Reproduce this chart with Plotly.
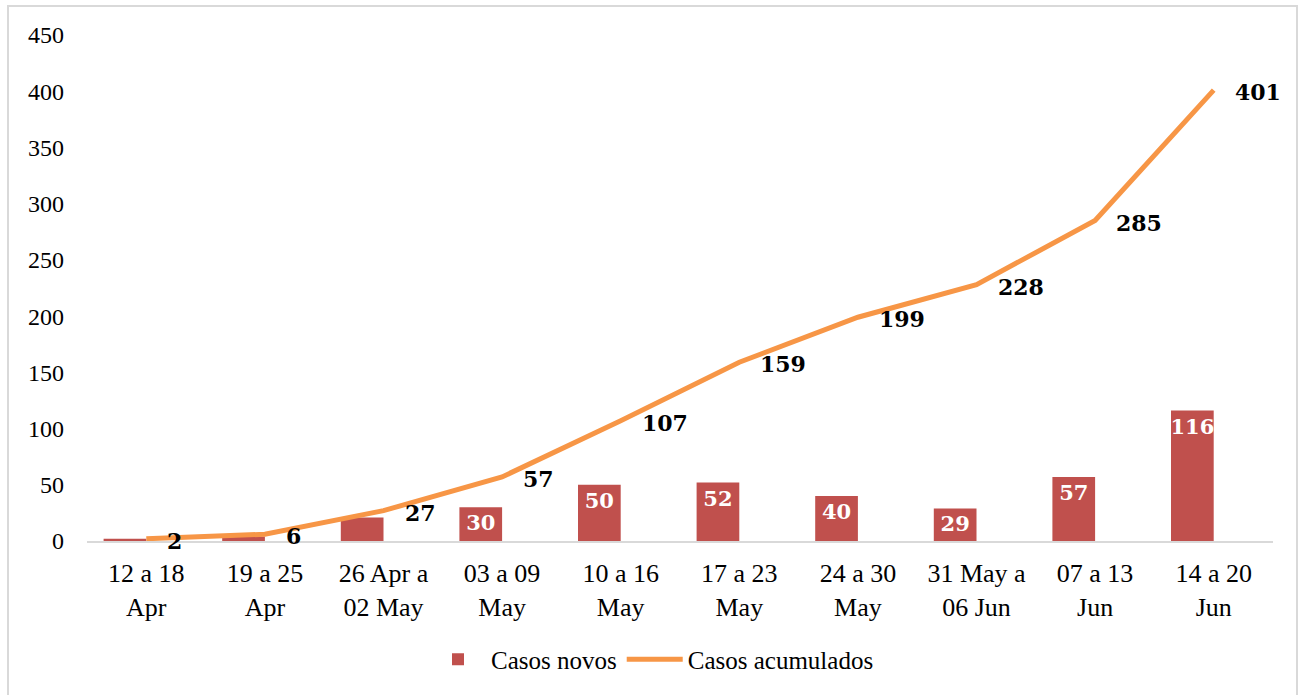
import plotly.graph_objects as go

categories = ["12 a 18<br>Apr", "19 a 25<br>Apr", "26 Apr a<br>02 May", "03 a 09<br>May",
              "10 a 16<br>May", "17 a 23<br>May", "24 a 30<br>May", "31 May a<br>06 Jun",
              "07 a 13<br>Jun", "14 a 20<br>Jun"]
casos_novos = [2, 4, 21, 30, 50, 52, 40, 29, 57, 116]
casos_acumulados = [2, 6, 27, 57, 107, 159, 199, 228, 285, 401]
bar_labels = ["", "", "", "30", "50", "52", "40", "29", "57", "116"]
y_ticks = [0, 50, 100, 150, 200, 250, 300, 350, 400, 450]

FONT = "Liberation Serif"
BOLD_FONT = "DejaVu Serif"
BAR = "#C0504D"
LINE = "#F79646"

L, R, T, B = 87, 28, 35, 152
W, H = 1301, 695
PW, PH = W - L - R, H - T - B

fig = go.Figure()
fig.add_trace(go.Bar(
    x=categories, y=casos_novos, name="Casos novos",
    marker=dict(color=BAR, line=dict(width=0)),
    width=0.36, offset=-0.36,
    text=bar_labels, textposition="inside", insidetextanchor="end",
    textangle=0, constraintext="none",
    textfont=dict(family=BOLD_FONT, size=21, color="white", weight="bold"),
))
fig.add_trace(go.Scatter(
    x=categories, y=casos_acumulados, name="Casos acumulados",
    mode="lines", line=dict(color=LINE, width=5),
))
for c, v in zip(categories, casos_acumulados):
    fig.add_annotation(x=c, y=v, text=f"<b>{v}</b>", showarrow=False,
                       xanchor="left", yanchor="middle", xshift=19, yshift=-2,
                       font=dict(family=BOLD_FONT, size=22, color="black"))

fig.add_shape(type="rect", xref="paper", yref="paper",
              x0=(8 - L) / PW, x1=(1297 - L) / PW, y0=-0.32, y1=(H - B - 6) / PH,
              line=dict(color="#D9D9D9", width=2), layer="below")

fig.update_layout(
    width=W, height=H,
    margin=dict(l=L, r=R, t=T, b=B),
    paper_bgcolor="white", plot_bgcolor="white",
    font=dict(family=FONT, size=24, color="black"),
    barmode="overlay",
    showlegend=True,
    legend=dict(orientation="h", x=(652 - L) / PW, xanchor="center", y=-0.234, yanchor="middle",
                font=dict(family=FONT, size=25), itemwidth=56, tracegroupgap=0),
    xaxis=dict(range=[-0.5, len(categories) - 0.5], autorange=False,
               showgrid=False, showline=True, linecolor="#D9D9D9", linewidth=2,
               ticks="", tickfont=dict(family=FONT, size=26), ticklabelstandoff=8),
    yaxis=dict(range=[0, 450], tickvals=y_ticks, showgrid=False, zeroline=False,
               showline=False, ticks="", tickfont=dict(family=FONT, size=24),
               ticklabelstandoff=22),
)

fig.write_html("out.html", config={"displayModeBar": False},
               post_script="document.body.style.margin='0';")
